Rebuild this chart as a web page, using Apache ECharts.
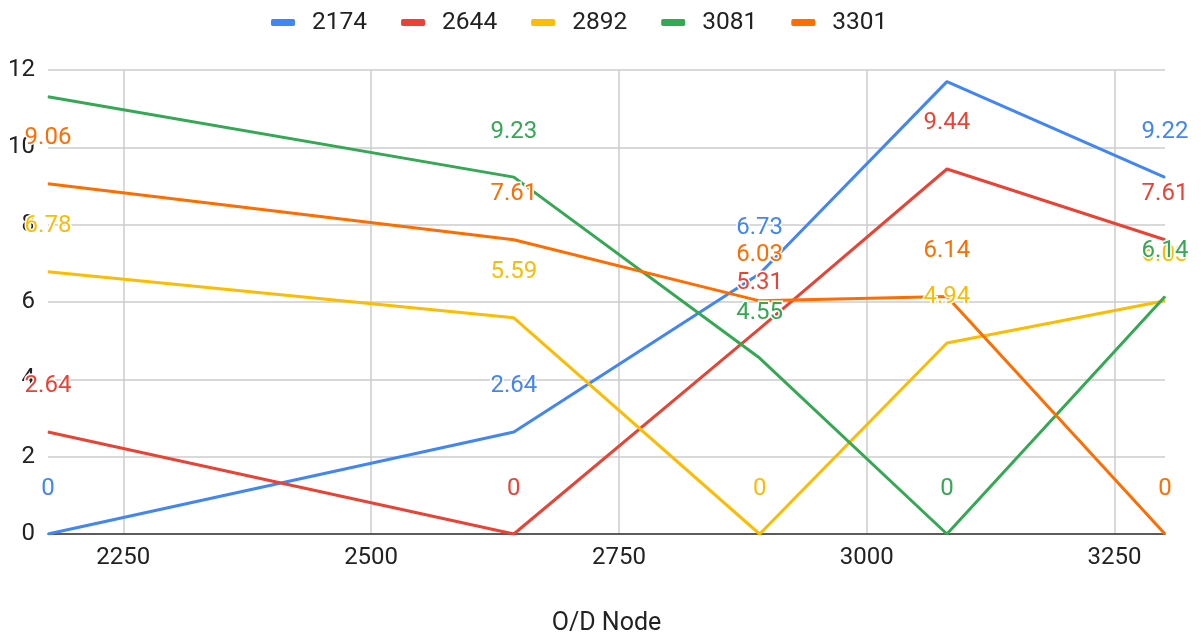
<!DOCTYPE html>
<html>
<head>
<meta charset="utf-8">
<script src="https://cdn.jsdelivr.net/npm/echarts@6/dist/echarts.min.js"></script>
<style>
    html, body { margin: 0; padding: 0; background: #fff; }
    #main { width: 1201px; height: 635px; }
</style>
</head>
<body>
<div id="main"></div>
<script>
// O/D nodes on the x axis
var nodes = [2174, 2644, 2892, 3081, 3301]
var seriesNames = ['2174', '2644', '2892', '3081', '3301']
var xTicks = [2250, 2500, 2750, 3000, 3250]

// one list per series, values at each node
var s2174 = [0, 2.64, 6.73, 11.7, 9.22]
var s2644 = [2.64, 0, 5.31, 9.44, 7.61]
var s2892 = [6.78, 5.59, 0, 4.94, 6.03]
var s3081 = [11.31, 9.23, 4.55, 0, 6.14]
var s3301 = [9.06, 7.61, 6.03, 6.14, 0]

var colors = ['#4285F4', '#EA4335', '#FBBC04', '#34A853', '#FF6D01']
var font = 'Roboto'

var makeData = function(values) {
    var out = []
    for (var i = 0; i < values.length; i++) {
        var item = { value: [nodes[i], values[i]] }
        // labels that would go past the top of the plot are dropped
        if (values[i] > 11) {
            item.label = { show: false }
        }
        out.push(item)
    }
    return out
}

var allValues = [s2174, s2644, s2892, s3081, s3301]
var list = []
for (var k = 0; k < allValues.length; k++) {
    list.push({
        name: seriesNames[k],
        type: 'line',
        data: makeData(allValues[k]),
        symbol: 'circle',
        symbolSize: 1,
        lineStyle: { width: 3 },
        label: {
            show: true,
            position: 'top',
            distance: 33,
            color: colors[k],
            fontFamily: font,
            fontSize: 24,
            textBorderColor: '#fff',
            textBorderWidth: 3,
            formatter: function(p) {
                return p.value[1]
            }
        },
        emphasis: { disabled: true }
    })
}

var option = {
    color: colors,
    animation: false,
    textStyle: { fontFamily: font },
    legend: {
        top: 5,
        left: 266,
        data: seriesNames,
        icon: 'roundRect',
        itemWidth: 24,
        itemHeight: 7,
        itemGap: 34,
        textStyle: {
            fontSize: 24.5,
            color: '#222',
            fontFamily: font,
            padding: [0, 0, 0, 12]
        }
    },
    grid: {
        left: 48,
        right: 36,
        top: 70,
        bottom: 101,
        outerBoundsMode: 'none'
    },
    xAxis: {
        type: 'value',
        min: 2174,
        max: 3301,
        name: 'O/D Node',
        nameLocation: 'middle',
        nameGap: 77,
        nameTextStyle: { fontSize: 25, color: '#222', fontFamily: font },
        axisLine: { show: true, onZero: false, lineStyle: { color: '#333', width: 1.5 } },
        axisTick: { show: false, customValues: xTicks },
        axisLabel: {
            customValues: xTicks,
            margin: 12,
            fontSize: 24,
            color: '#222',
            fontFamily: font,
            formatter: function(v) {
                return String(v)
            }
        },
        splitLine: { show: true, lineStyle: { color: '#ccc', width: 1.5 } }
    },
    yAxis: {
        type: 'value',
        min: 0,
        max: 12,
        interval: 2,
        axisLine: { show: false },
        axisTick: { show: false },
        axisLabel: {
            margin: 13,
            fontSize: 24,
            color: '#222',
            fontFamily: font
        },
        splitLine: { lineStyle: { color: '#ccc', width: 1.5 } }
    },
    series: list
}

echarts.init(document.getElementById('main')).setOption(option)
</script>
</body>
</html>
